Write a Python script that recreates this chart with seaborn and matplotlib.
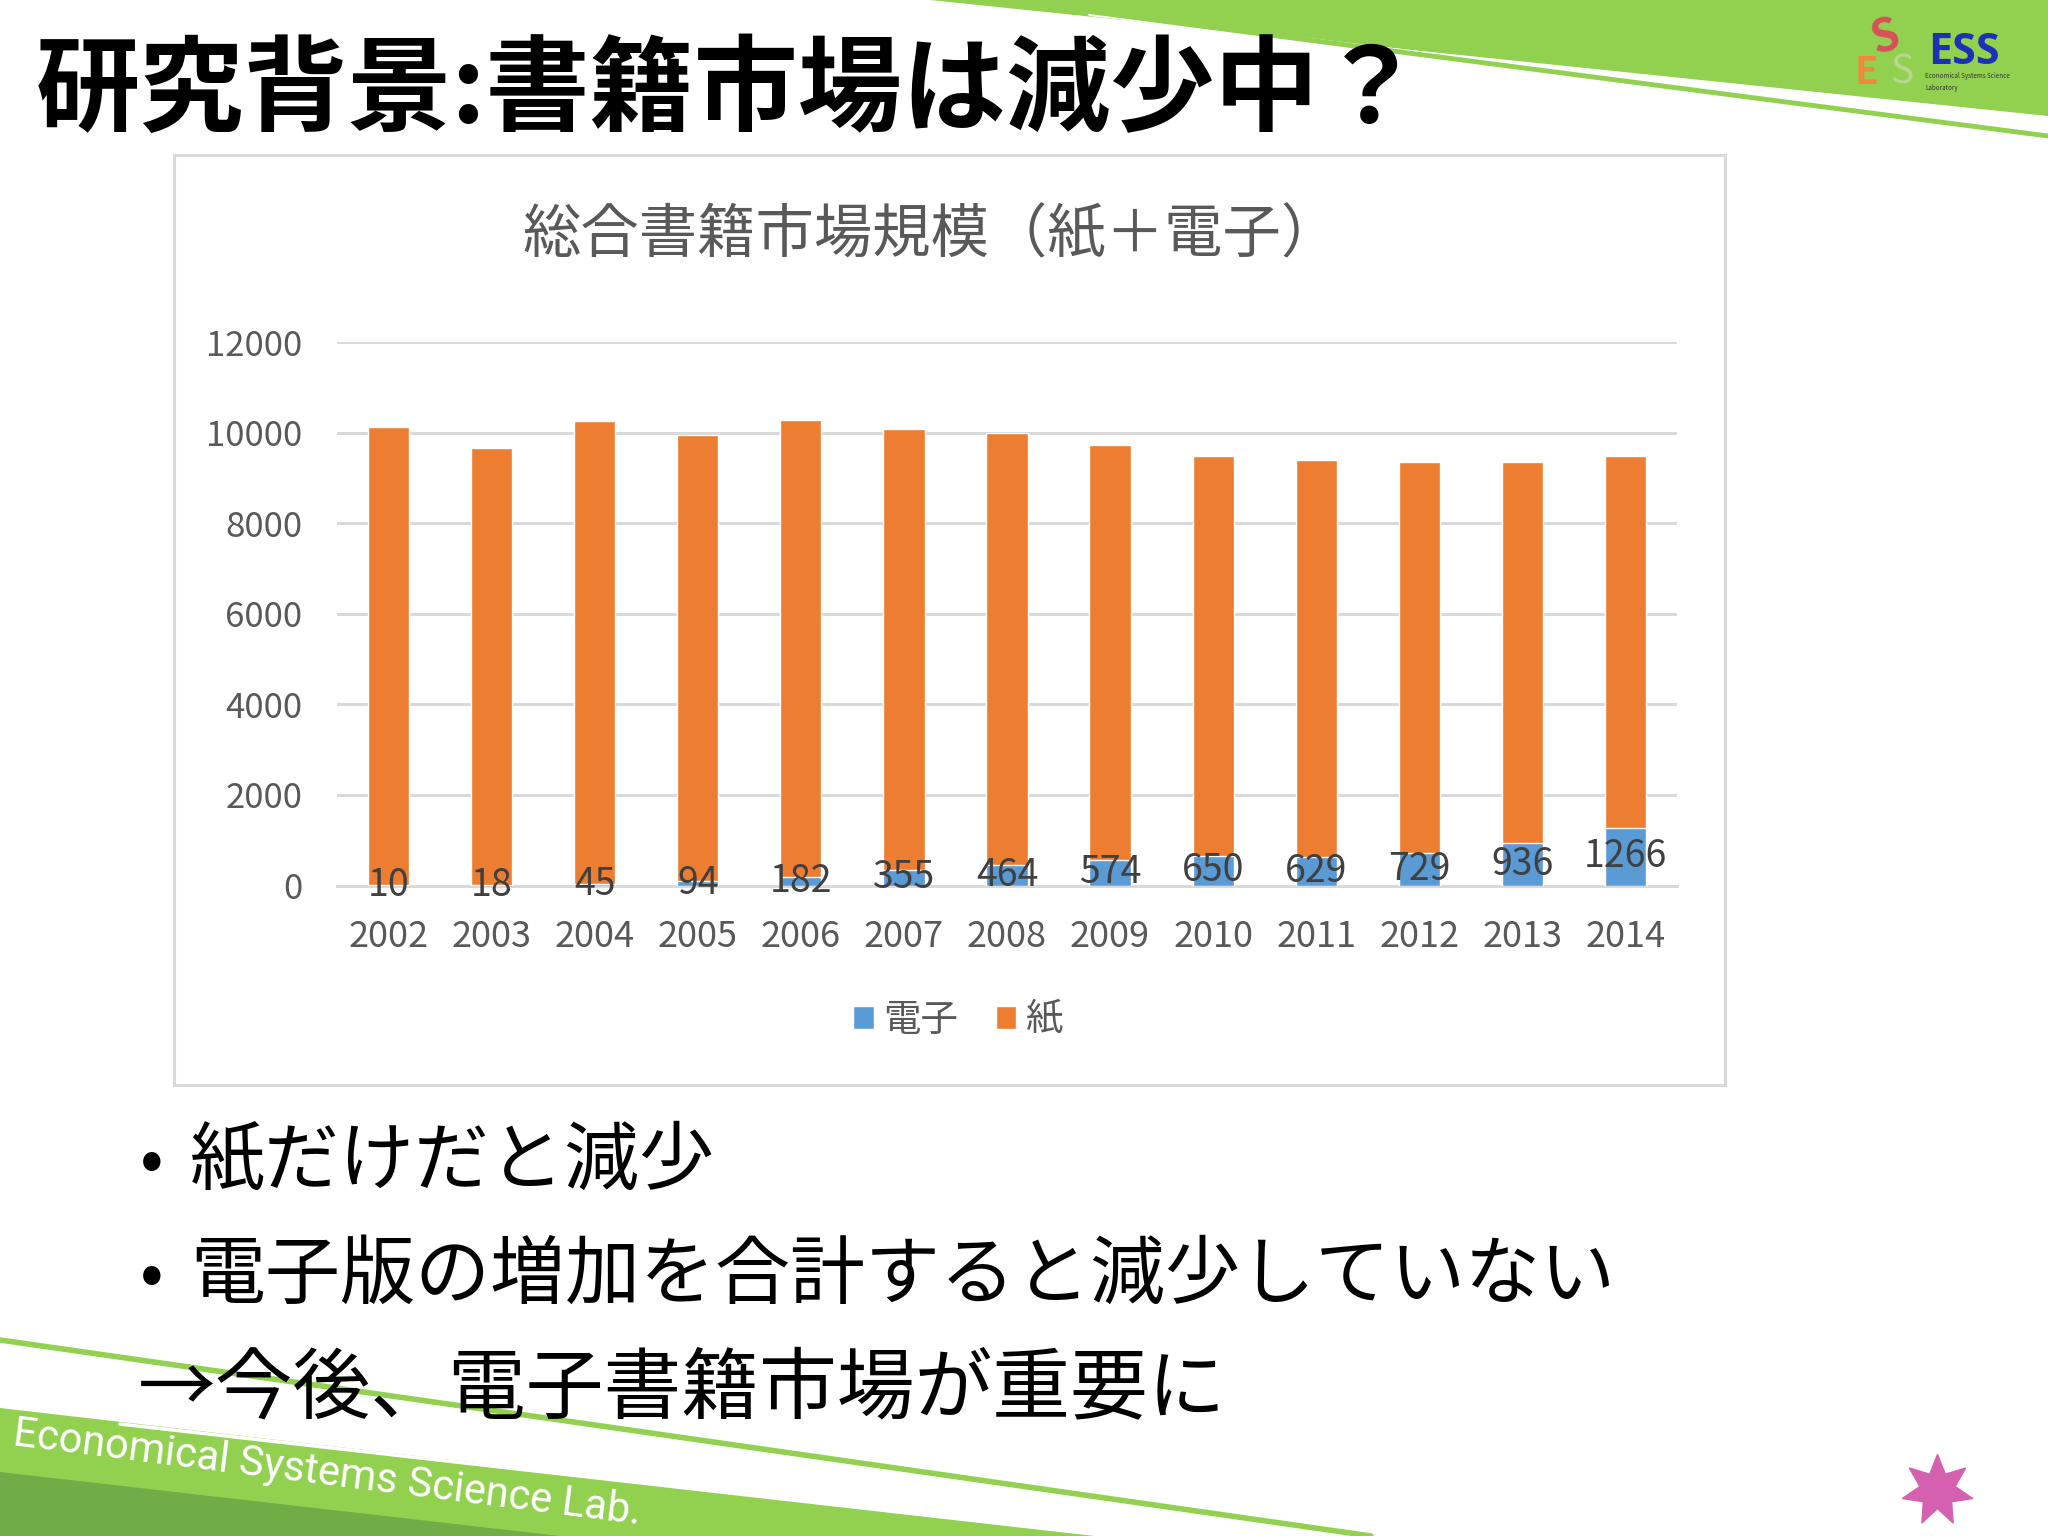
import matplotlib
matplotlib.use("Agg")
import matplotlib.pyplot as plt
from matplotlib.patches import Polygon, Rectangle, Patch
from matplotlib.lines import Line2D
import numpy as np
import pandas as pd
import seaborn as sns

# data (総合書籍市場規模, 紙 + 電子)
years = ["2002", "2003", "2004", "2005", "2006", "2007", "2008",
         "2009", "2010", "2011", "2012", "2013", "2014"]
paper = [10114, 9649, 10218, 9860, 10090, 9724, 9534,
         9146, 8834, 8766, 8622, 8415, 8218]
electronic = [10, 18, 45, 94, 182, 355, 464, 574, 650, 629, 729, 936, 1266]
y_ticks = [0, 2000, 4000, 6000, 8000, 10000, 12000]

slide_title = "研究背景:書籍市場は減少中？"
chart_title = "総合書籍市場規模（紙＋電子）"
bullets = ["紙だけだと減少", "電子版の増加を合計すると減少していない"]
conclusion = "→今後、電子書籍市場が重要に"

BLUE = "#5b9bd5"
ORANGE = "#ed7d31"
GRID = "#d9d9d9"
GRAY_TXT = "#595959"
GREEN = "#92d050"
DARK_GREEN = "#70ad47"

W, H = 2048, 1536

sns.set_theme(style="white")
plt.rcParams["font.family"] = ["Noto Sans CJK JP", "DejaVu Sans"]

df = pd.DataFrame({"year": years, "paper": paper, "electronic": electronic})
df["total"] = df["paper"] + df["electronic"]

fig = plt.figure(figsize=(W / 100, H / 100), dpi=100)
fig.patch.set_facecolor("white")


def fx(x):
    return x / W


def fy(y):
    return 1 - y / H


def poly(points, color, z=0):
    fig.patches.append(Polygon([(fx(x), fy(y)) for x, y in points], closed=True,
                               transform=fig.transFigure, facecolor=color,
                               edgecolor="none", zorder=z))


def line(p0, p1, color, lw, z=0):
    fig.lines.append(Line2D([fx(p0[0]), fx(p1[0])], [fy(p0[1]), fy(p1[1])],
                            transform=fig.transFigure, color=color, lw=lw, zorder=z))


# top-right green band
poly([(930, 0), (2048, 0), (2048, 116)], GREEN)
line((1090, 14), (2048, 128), "white", 3, z=1)
line((1000, 0), (2048, 136), GREEN, 3.5, z=1)

# bottom-left green band
poly([(0, 1408), (1110, 1536), (0, 1536)], GREEN)
poly([(0, 1472), (560, 1536), (0, 1536)], DARK_GREEN)
line((120, 1424), (1110, 1536), "white", 2.5, z=1)
line((0, 1340), (1371, 1536), GREEN, 4, z=1)
fig.text(fx(14), fy(1434), "Economical Systems Science Lab.", color="white",
         fontsize=30, rotation=-7.2, rotation_mode="anchor", ha="left", va="center",
         family=["Roboto", "DejaVu Sans"], zorder=2)

# pink star bottom-right
fig.lines.append(Line2D([fx(1937)], [fy(1490)], transform=fig.transFigure,
                        marker=(7, 1, 0), markersize=52, color="#d660b0",
                        markeredgecolor="#d660b0", linestyle="none"))

# ESS logo
fig.text(fx(1928), fy(52), "ESS", color="#1f2fb8", fontsize=31, fontweight="bold",
         ha="left", va="center", family=["Open Sans", "DejaVu Sans"])
fig.text(fx(1925), fy(82), "Economical Systems Science\nLaboratory", color="#333333",
         fontsize=4.5, ha="left", va="center", linespacing=1.6)
fig.text(fx(1885), fy(38), "S", color="#d8505a", fontsize=32, fontweight="bold",
         ha="center", va="center", rotation=15)
fig.text(fx(1866), fy(72), "E", color="#f08a3a", fontsize=28, fontweight="bold",
         ha="center", va="center")
fig.text(fx(1902), fy(72), "S", color="#b8d890", fontsize=28,
         ha="center", va="center")

# slide title
fig.text(fx(36), fy(92), slide_title, fontsize=75, fontweight="bold", color="black",
         ha="left", va="center")

# chart frame
fig.patches.append(Rectangle((fx(174), fy(1085)), fx(1725) - fx(174), fy(155) - fy(1085),
                             transform=fig.transFigure, facecolor="white",
                             edgecolor=GRID, lw=2.2, zorder=1))
fig.text(fx(931), fy(236), chart_title, fontsize=42, color=GRAY_TXT,
         ha="center", va="center", zorder=3)

ax = fig.add_axes([fx(337), fy(885.6), fx(1677) - fx(337), fy(342) - fy(885.6)])
ax.set_zorder(2)
ax.patch.set_alpha(0)

sns.barplot(data=df, x="year", y="total", color=ORANGE, width=0.4,
            saturation=1, ax=ax, zorder=3)
sns.barplot(data=df, x="year", y="electronic", color=BLUE, width=0.4,
            saturation=1, ax=ax, zorder=4)

for i, v in enumerate(electronic):
    ax.text(i, v / 2, str(v), ha="center", va="center", fontsize=27,
            color="#404040", zorder=5)

ax.set_xlim(-0.5, len(years) - 0.5)
ax.set_ylim(0, 12000)
ax.set_yticks(y_ticks)
ax.set_yticklabels([str(t) for t in y_ticks])
ax.yaxis.grid(True, color=GRID, lw=2.2, zorder=0)
ax.set_axisbelow(True)
for s in ["top", "right", "left"]:
    ax.spines[s].set_visible(False)
ax.spines["bottom"].set_color(GRID)
ax.spines["bottom"].set_linewidth(2.2)
ax.spines["bottom"].set_zorder(2)
ax.set_xticks(np.arange(-0.5, len(years), 1.0), minor=True)
ax.tick_params(axis="x", which="minor", length=9, width=2, color=GRID, direction="out")
ax.tick_params(axis="x", which="major", length=0, pad=24, labelsize=26, labelcolor=GRAY_TXT)
ax.tick_params(axis="y", length=0, pad=25, labelsize=25, labelcolor=GRAY_TXT)
ax.set_xlabel("")
ax.set_ylabel("")

handles = [Patch(facecolor=BLUE, label="電子"), Patch(facecolor=ORANGE, label="紙")]
fig.legend(handles=handles, loc="center", bbox_to_anchor=(fx(958), fy(1020)),
           ncol=2, frameon=False, fontsize=27, handlelength=0.55, handleheight=0.55,
           handletextpad=0.25, columnspacing=1.0, labelcolor=GRAY_TXT)

# bullets
for yy, txt in zip([1162, 1276], bullets):
    fig.text(fx(140), fy(yy), "•", fontsize=50, ha="left", va="center", color="black")
    fig.text(fx(190), fy(yy), txt, fontsize=54, ha="left", va="center", color="black")
fig.text(fx(138), fy(1390), conclusion, fontsize=56, ha="left", va="center",
         color="black", zorder=3)

fig.savefig("out.png", dpi=100, facecolor="white")
